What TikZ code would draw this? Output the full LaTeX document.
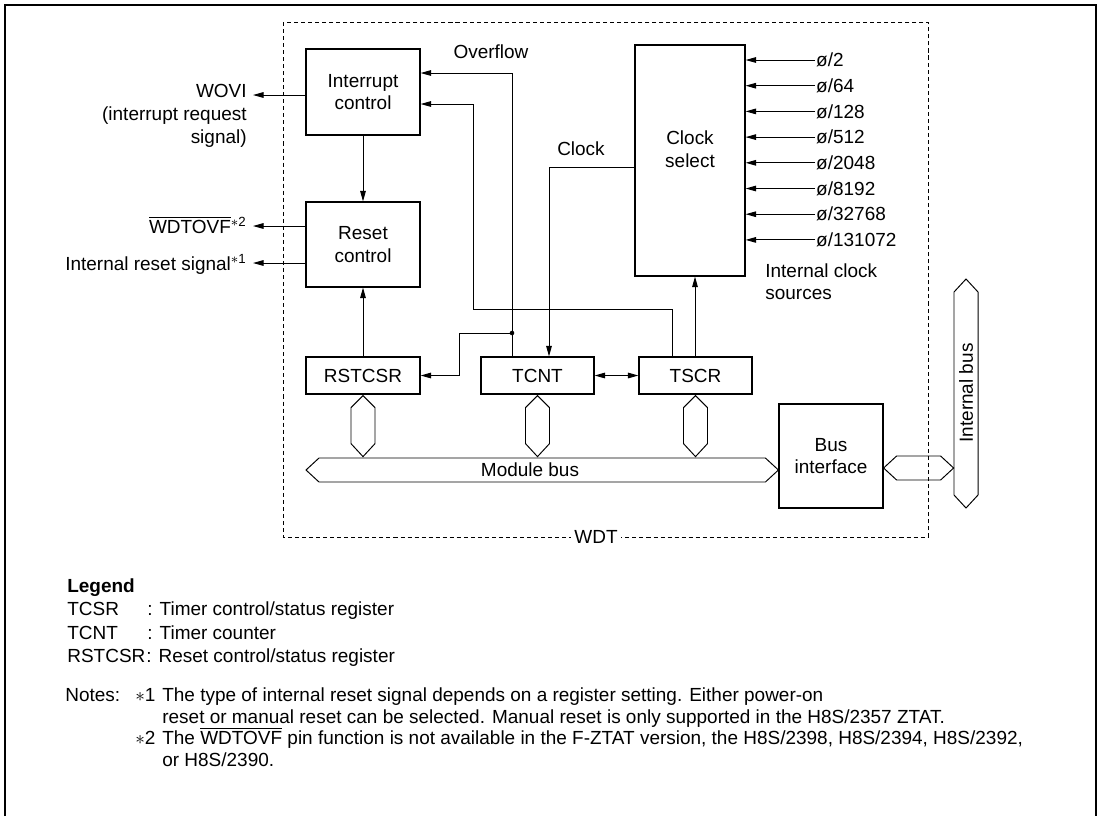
\documentclass[tikz,border=0pt]{standalone}
\usepackage{fontspec}
\setmainfont{Liberation Sans}
\usepackage{tikz}
\usetikzlibrary{arrows.meta,calc}

\begin{document}
\begin{tikzpicture}[x={(0.02cm,0)},y={(0,-0.02cm)},
  every node/.style={font=\fontsize{10.8}{13}\selectfont},
  box/.style={draw,line width=0.7pt,inner sep=0pt,align=center},
  arr/.style={-{Triangle[length=6pt,width=3.2pt]},line width=0.55pt},
  darr/.style={{Triangle[length=6pt,width=3.2pt]}-{Triangle[length=6pt,width=3.2pt]},line width=0.55pt},
  bus/.style={draw,line width=0.55pt},
  wdtline/.style={dash pattern=on 2.3pt off 1.7pt,line width=0.55pt}]
\useasboundingbox (0,0) rectangle (1101,816);
\draw[line width=0.8pt] (5,816) -- (5,5) -- (1096,5) -- (1096,816);
% WDT frame
\draw[wdtline] (283,22) rectangle (928,537);
\node[fill=white,inner sep=2pt] (wdt) at (596,537) {WDT};
% blocks
\node[box,minimum width=2.28cm,minimum height=1.72cm] (intc) at (363,92) {Interrupt\\control};
\node[box,minimum width=2.28cm,minimum height=1.70cm] (rstc) at (363,244.5) {Reset\\control};
\node[box,minimum width=2.20cm,minimum height=4.62cm] (clk) at (690,160.5) {};
\node[align=center] (clktxt) at (690,149) {Clock\\select};
\node[box,minimum width=2.28cm,minimum height=0.74cm] (rstcsr) at (363,375.5) {RSTCSR};
\node[box,minimum width=2.26cm,minimum height=0.74cm] (tcnt) at (537.5,375.5) {TCNT};
\node[box,minimum width=2.26cm,minimum height=0.74cm] (tscr) at (695.5,375.5) {TSCR};
\node[box,minimum width=2.08cm,minimum height=2.08cm] (busif) at (831,456) {Bus\\interface};
% outputs
\coordinate (wovi) at (253,95);
\coordinate (wdtovf) at (253,226);
\coordinate (irst) at (253,263);
\draw[arr] (intc.west |- wovi) -- (wovi);
\draw[arr] (rstc.west |- wdtovf) -- (wdtovf);
\draw[arr] (rstc.west |- irst) -- (irst);
\node[anchor=north east,align=right,inner sep=0pt] (wovitxt) at (247,84) {WOVI\\(interrupt request\\signal)};
\node[anchor=base east,inner sep=0pt] (wdtovftxt) at (247,233) {$\overline{\mbox{WDTOVF}}$\textsuperscript{$\ast$2}};
\node[anchor=base east,inner sep=0pt] (irsttxt) at (247,270) {Internal reset signal\textsuperscript{$\ast$1}};
\draw[arr] (intc) -- (rstc);
\draw[arr] (rstcsr) -- (rstc);
% overflow
\coordinate (ovf) at (512,73);
\coordinate (tap) at (512,333);
\node (ovftxt) at (491,52) {Overflow};
\draw[arr] (tcnt.north -| ovf) -- (ovf) -- (intc.east |- ovf);
\fill (tap) circle[radius=1.3pt];
\draw[arr] (tap) -- (459,333) |- (rstcsr.east);
\draw[arr] (tscr.north -| 672,0) |- (473,309) |- (intc.east |- 473,104);
% clock
\node (clocktxt) at (581,149) {Clock};
\draw[arr] (clk.west |- 0,167) -| (tcnt.north -| 549,0);
\draw[arr] (tscr.north -| 695,0) -- (clk.south -| 695,0);
\draw[darr] (tcnt) -- (tscr);
\foreach \i/\rate in {0/2,1/64,2/128,3/512,4/2048,5/8192,6/32768,7/131072}{
  \node[anchor=west,inner sep=0.5pt] (src\i) at (815,60+25.7*\i) {ø/\rate};
  \draw[arr] (src\i.west) -- (clk.east |- src\i.west);
}
\node[anchor=north west,align=left,inner sep=0pt] (srctxt) at (765,263) {Internal clock\\sources};
% buses
\foreach \n in {rstcsr,tcnt,tscr}
  \draw[bus] ($(\n.south)+(0,1)$) -- ++(12,12) -- ++(0,36) -- ++(-12,13) -- ++(-12,-13) -- ++(0,-36) -- cycle;
\node (mbus) at (530,470) {Module bus};
\draw[bus] (busif.west |- mbus) -- ++(-13,-12) -- (319,458) -- (306,470) -- (319,482) -- ($(busif.west |- mbus)+(-13,12)$) -- cycle;
\draw[bus] (busif.east |- 0,468) -- ++(13,-12) -- ++(44,0) -- ++(13,12) -- ++(-13,12) -- ++(-44,0) -- cycle;
\draw[bus] (966,279) -- (978,292) -- (978,495) -- (966,508) -- (954,495) -- (954,292) -- cycle;
\node[rotate=90] (ibus) at (966,393) {Internal bus};
% legend
\node[anchor=base west,inner sep=0pt,font=\fontsize{10.8}{13}\selectfont\bfseries] (leg) at (67,592) {Legend};
\node[anchor=base west,inner sep=0pt] (tcsrab) at (67,615) {TCSR};
\node[anchor=base west,inner sep=0pt] (tcsrde) at (147,615) {: Timer control/status register};
\node[anchor=base west,inner sep=0pt] (tcntab) at (67,639) {TCNT};
\node[anchor=base west,inner sep=0pt] (tcntde) at (147,639) {: Timer counter};
\node[anchor=base west,inner sep=0pt] (rstab) at (67,662) {RSTCSR};
\node[anchor=base west,inner sep=0pt] (rstde) at (146,662) {: Reset control/status register};
% notes
\node[anchor=base west,inner sep=0pt] (notes) at (65,701) {Notes:};
\node[anchor=base west,inner sep=0pt] (note1) at (135,701) {$\ast$1};
\node[anchor=base west,inner sep=0pt] (note1a) at (162,701) {The type of internal reset signal depends on a register setting. Either power-on};
\node[anchor=base west,inner sep=0pt] (note1b) at (162,723) {reset or manual reset can be selected. Manual reset is only supported in the H8S/2357 ZTAT.};
\node[anchor=base west,inner sep=0pt] (note2) at (135,744) {$\ast$2};
\node[anchor=base west,inner sep=0pt] (note2a) at (162,744) {The $\overline{\mbox{WDTOVF}}$ pin function is not available in the F-ZTAT version, the H8S/2398, H8S/2394, H8S/2392,};
\node[anchor=base west,inner sep=0pt] (note2b) at (162,766) {or H8S/2390.};
\end{tikzpicture}
\end{document}
